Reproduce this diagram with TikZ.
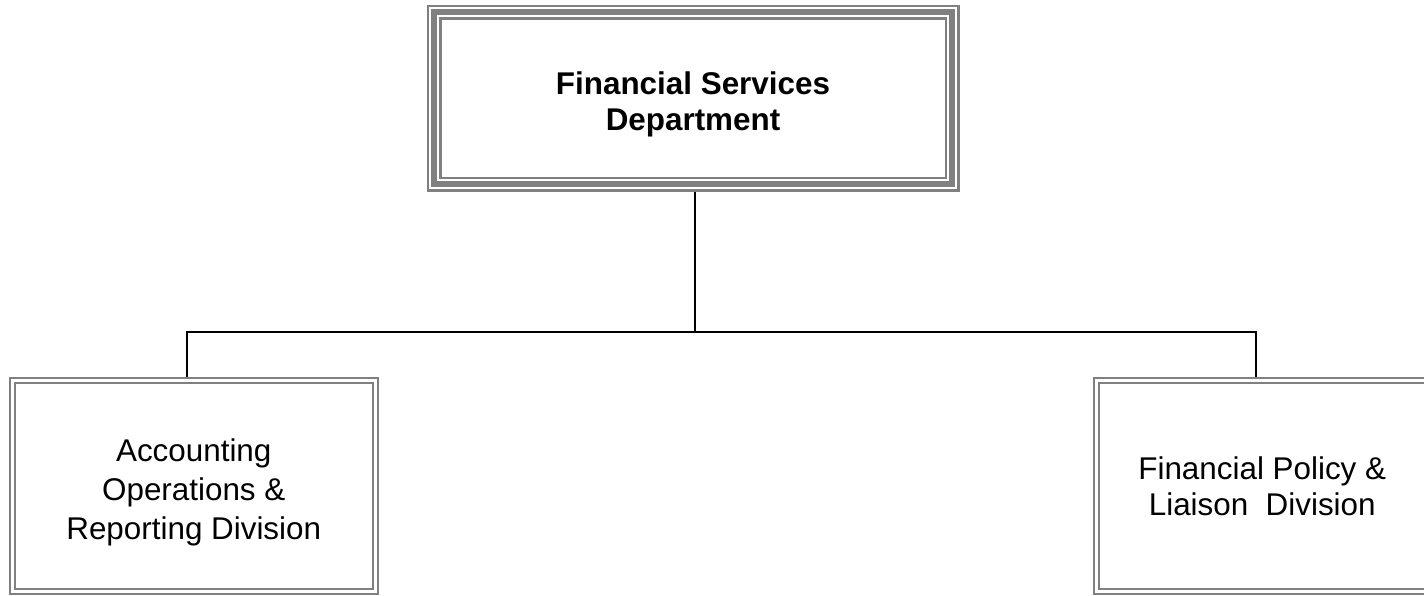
\documentclass[tikz,border=0pt]{standalone}
\usepackage{fontspec}
\setmainfont{Liberation Sans}
\definecolor{boxgray}{HTML}{808080}
\newcommand{\lowerby}[1]{\rule{0pt}{#1}}

\begin{document}
\begin{tikzpicture}[x=0.5pt, y=-0.5pt,
    every node/.style={align=center, inner sep=0pt},
    deptbox/.style={rectangle, draw=boxgray, line width=7.5pt, minimum width=259pt, minimum height=86pt,
        font=\fontsize{15.7}{18}\selectfont\bfseries,
        postaction={draw=white, line width=1pt, double=boxgray, double distance=3pt}},
    divbox/.style={rectangle, draw=boxgray, line width=1pt, double=white, double distance=1.5pt,
        outer sep=1.75pt, minimum height=105.75pt},
    link/.style={line width=1pt}]

    \useasboundingbox (0,0) rectangle (1424,595);
    \clip (0,0) rectangle (1424,595);

    % Department
    \node[deptbox] (dept) at (693,98) {\lowerby{17.5pt}Financial Services\\Department};

    % Divisions
    \node[divbox, minimum width=181.75pt, font=\fontsize{15.7}{19.5}\selectfont] (acc) at (193.75,486)
        {\lowerby{17.3pt}Accounting\\Operations \&\\Reporting Division};
    \node[divbox, minimum width=165.75pt, font=\fontsize{15.7}{18}\selectfont] (pol) at (1262.25,486)
        {Financial Policy \&\\Liaison\ \ Division};

    % connectors
    \coordinate (hub) at (695,332);
    \draw[link] ([xshift=1pt]dept.south) -- ([xshift=1pt]dept.south |- hub);
    \draw[link] ([xshift=-3.5pt]acc.north) |- (hub) -| ([xshift=-3pt]pol.north);

\end{tikzpicture}
\end{document}
